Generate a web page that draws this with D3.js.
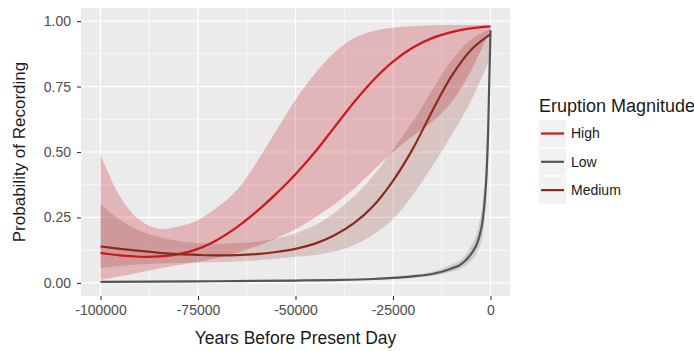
<!DOCTYPE html>
<html>
<head>
<meta charset="utf-8">
<script src="https://cdn.jsdelivr.net/npm/d3@7"></script>
<style>
  body { margin: 0; background: #fff; }
  svg text { font-family: "Liberation Sans", Arial, Helvetica, sans-serif; }
</style>
</head>
<body>
<svg id="chart"></svg>
<script>
// years before present, shared grid for High / Medium
const years = [-100000, -95000, -90000, -85000, -80000, -75000, -70000, -65000, -60000, -55000,
  -50000, -45000, -40000, -35000, -30000, -25000, -20000, -15000, -10000, -5000, 0];

const highFit   = [0.115, 0.105, 0.100, 0.101, 0.110, 0.130, 0.165, 0.213, 0.272, 0.340,
  0.415, 0.500, 0.595, 0.690, 0.775, 0.845, 0.898, 0.935, 0.958, 0.972, 0.980];
const highLower = [0.011, 0.025, 0.040, 0.055, 0.068, 0.080, 0.095, 0.115, 0.140, 0.170,
  0.205, 0.250, 0.300, 0.360, 0.430, 0.500, 0.560, 0.615, 0.690, 0.810, 0.970];
const highUpper = [0.490, 0.330, 0.240, 0.207, 0.215, 0.240, 0.290, 0.355, 0.460, 0.580,
  0.700, 0.800, 0.880, 0.935, 0.962, 0.975, 0.980, 0.984, 0.985, 0.985, 0.985];

const mediumFit   = [0.139, 0.130, 0.122, 0.115, 0.110, 0.107, 0.105, 0.106, 0.110, 0.118,
  0.130, 0.150, 0.182, 0.228, 0.295, 0.390, 0.510, 0.655, 0.790, 0.890, 0.950];
const mediumLower = [0.057, 0.065, 0.070, 0.074, 0.076, 0.078, 0.079, 0.082, 0.086, 0.092,
  0.100, 0.107, 0.120, 0.145, 0.185, 0.245, 0.335, 0.445, 0.565, 0.695, 0.860];
const mediumUpper = [0.300, 0.240, 0.200, 0.175, 0.160, 0.152, 0.150, 0.152, 0.158, 0.170,
  0.190, 0.220, 0.268, 0.330, 0.410, 0.510, 0.615, 0.735, 0.850, 0.930, 0.970];

// Low needs a finer grid close to present day
const lowYears = [-100000, -75000, -50000, -40000, -30000, -25000, -20000, -15000, -10000, -7500,
  -5000, -3000, -2000, -1500, -1000, -600, -300, -100, 0];
const lowFit   = [0.004, 0.006, 0.009, 0.011, 0.015, 0.019, 0.025, 0.034, 0.055, 0.072,
  0.110, 0.170, 0.240, 0.310, 0.420, 0.580, 0.780, 0.900, 0.965];
const lowLower = [0.002, 0.004, 0.007, 0.009, 0.012, 0.015, 0.020, 0.027, 0.043, 0.057,
  0.085, 0.130, 0.180, 0.240, 0.330, 0.470, 0.680, 0.830, 0.940];
const lowUpper = [0.007, 0.009, 0.012, 0.014, 0.019, 0.024, 0.031, 0.043, 0.070, 0.090,
  0.140, 0.220, 0.310, 0.390, 0.520, 0.690, 0.860, 0.950, 0.980];

const xTicks = [-100000, -75000, -50000, -25000, 0];
const xMinor = [-87500, -62500, -37500, -12500];
const yTicks = [0, 0.25, 0.5, 0.75, 1];
const yMinor = [0.125, 0.375, 0.625, 0.875];

const groups = ["High", "Low", "Medium"];
const lineColors = ["#c9191e", "#555555", "#8b2a1e"];

const W = 694, H = 351;
const panel = { left: 81, right: 510, top: 8, bottom: 296 };

const svg = d3.select("#chart").attr("width", W).attr("height", H);

const x = d3.scaleLinear().domain([-105000, 5000]).range([panel.left, panel.right]);
const y = d3.scaleLinear().domain([-0.05, 1.05]).range([panel.bottom, panel.top]);
const color = d3.scaleOrdinal().domain(groups).range(lineColors);

// panel background + grid
svg.append("rect")
    .attr("x", panel.left).attr("y", panel.top)
    .attr("width", panel.right - panel.left).attr("height", panel.bottom - panel.top)
    .attr("fill", "#ebebeb");

const grid = svg.append("g");
xMinor.forEach(v => grid.append("line")
    .attr("x1", x(v)).attr("x2", x(v)).attr("y1", panel.top).attr("y2", panel.bottom)
    .attr("stroke", "#fff").attr("stroke-width", 0.6));
yMinor.forEach(v => grid.append("line")
    .attr("y1", y(v)).attr("y2", y(v)).attr("x1", panel.left).attr("x2", panel.right)
    .attr("stroke", "#fff").attr("stroke-width", 0.6));
xTicks.forEach(v => grid.append("line")
    .attr("x1", x(v)).attr("x2", x(v)).attr("y1", panel.top).attr("y2", panel.bottom)
    .attr("stroke", "#fff").attr("stroke-width", 1.2));
yTicks.forEach(v => grid.append("line")
    .attr("y1", y(v)).attr("y2", y(v)).attr("x1", panel.left).attr("x2", panel.right)
    .attr("stroke", "#fff").attr("stroke-width", 1.2));

// series
const series = [
    { name: "High", xs: years, fit: highFit, lo: highLower, hi: highUpper, alpha: 0.25, curve: d3.curveCatmullRom.alpha(0.5) },
    { name: "Low", xs: lowYears, fit: lowFit, lo: lowLower, hi: lowUpper, alpha: 0.2, curve: d3.curveMonotoneX },
    { name: "Medium", xs: years, fit: mediumFit, lo: mediumLower, hi: mediumUpper, alpha: 0.2, curve: d3.curveCatmullRom.alpha(0.5) }
];

series.forEach(s => {
    const pts = s.xs.map((v, i) => ({ x: v, lo: s.lo[i], hi: s.hi[i] }));
    const area = d3.area()
        .x(d => x(d.x)).y0(d => y(d.lo)).y1(d => y(d.hi))
        .curve(s.curve);
    svg.append("path")
        .attr("d", area(pts))
        .attr("fill", color(s.name))
        .attr("fill-opacity", s.alpha);
});

series.forEach(s => {
    const pts = s.xs.map((v, i) => ({ x: v, v: s.fit[i] }));
    const line = d3.line()
        .x(d => x(d.x)).y(d => y(d.v))
        .curve(s.curve);
    svg.append("path")
        .attr("d", line(pts))
        .attr("fill", "none")
        .attr("stroke", color(s.name))
        .attr("stroke-width", 2.2);
});

// axes
const yAxis = svg.append("g")
    .attr("transform", `translate(${panel.left},0)`)
    .call(d3.axisLeft(y).tickValues(yTicks).tickFormat(d3.format(".2f"))
        .tickSize(4).tickPadding(6).tickSizeOuter(0));
const xAxis = svg.append("g")
    .attr("transform", `translate(0,${panel.bottom})`)
    .call(d3.axisBottom(x).tickValues(xTicks).tickFormat(d => String(d))
        .tickSize(4).tickPadding(5).tickSizeOuter(0));

[yAxis, xAxis].forEach(a => {
    a.select(".domain").remove();
    a.selectAll(".tick line").attr("stroke", "#333").attr("stroke-width", 1.1);
    a.selectAll(".tick text").attr("fill", "#4d4d4d").style("font-size", "14px");
});

svg.append("text")
    .attr("x", (panel.left + panel.right) / 2)
    .attr("y", 344)
    .attr("text-anchor", "middle")
    .style("font-size", "17.5px")
    .attr("fill", "#1a1a1a")
    .text("Years Before Present Day");

svg.append("text")
    .attr("transform", `translate(25,${(panel.top + panel.bottom) / 2}) rotate(-90)`)
    .attr("text-anchor", "middle")
    .style("font-size", "17px")
    .attr("fill", "#1a1a1a")
    .text("Probability of Recording");

// legend
const legend = svg.append("g").attr("transform", "translate(539,0)");
legend.append("text")
    .attr("x", 0).attr("y", 112)
    .style("font-size", "18px")
    .attr("fill", "#1a1a1a")
    .text("Eruption Magnitude");

groups.forEach((g, i) => {
    const top = 120 + i * 28.3;
    legend.append("rect")
        .attr("x", 0).attr("y", top)
        .attr("width", 27).attr("height", 27)
        .attr("fill", "#f2f2f2");
    legend.append("line")
        .attr("x1", 2).attr("x2", 25)
        .attr("y1", top + 13.5).attr("y2", top + 13.5)
        .attr("stroke", color(g)).attr("stroke-width", 2.2);
    legend.append("text")
        .attr("x", 32).attr("y", top + 13.5)
        .attr("dy", "0.35em")
        .style("font-size", "14px")
        .attr("fill", "#1a1a1a")
        .text(g);
});
</script>
</body>
</html>
